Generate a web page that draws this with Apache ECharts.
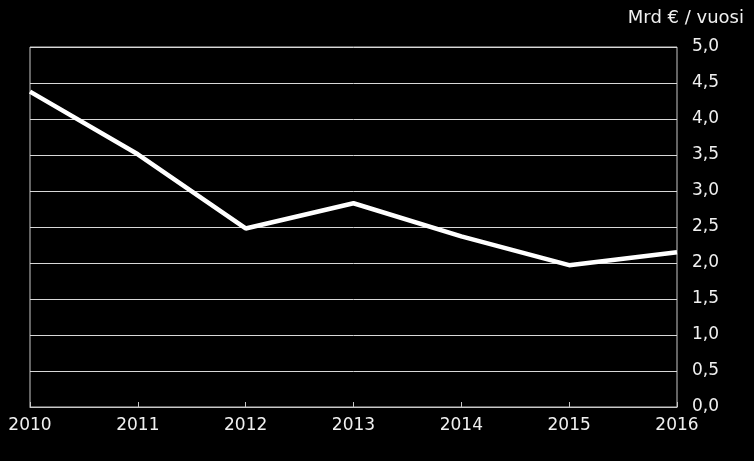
<!DOCTYPE html>
<html>
<head>
<meta charset="utf-8">
<script src="https://cdn.jsdelivr.net/npm/echarts@6/dist/echarts.min.js"></script>
<style>
html,body{margin:0;padding:0;background:#000;}
#c{width:754px;height:461px;}
</style>
</head>
<body>
<div id="c"></div>
<script>
const years = ['2010','2011','2012','2013','2014','2015','2016'];
const values = [4.38, 3.51, 2.48, 2.83, 2.37, 1.97, 2.15];
const unitLabel = 'Mrd € / vuosi';

const chart = echarts.init(document.getElementById('c'));
const font = '"DejaVu Sans", sans-serif';
chart.setOption({
  backgroundColor: '#000',
  animation: false,
  title: {
    text: unitLabel,
    right: 5,
    top: 4,
    textStyle: {color: '#f0f0f0', fontSize: 18, fontWeight: 'normal', fontFamily: font}
  },
  grid: {
    left: 30, right: 77, top: 47, bottom: 54,
    show: true, borderColor: '#c8c8c8', borderWidth: 1, backgroundColor: 'transparent'
  },
  xAxis: {
    type: 'category',
    data: years,
    boundaryGap: false,
    axisLine: {show: true, lineStyle: {color: '#c8c8c8', width: 1}},
    axisTick: {show: true, inside: true, length: 5, lineStyle: {color: '#c8c8c8'}},
    axisLabel: {color: '#f0f0f0', fontSize: 17, fontFamily: font, margin: 10},
    splitLine: {show: false}
  },
  yAxis: {
    type: 'value',
    position: 'right',
    min: 0, max: 5, interval: 0.5,
    axisLine: {show: false},
    axisTick: {show: false},
    axisLabel: {
      color: '#f0f0f0', fontSize: 17, fontFamily: font, margin: 15,
      formatter: v => v.toFixed(1).replace('.', ',')
    },
    splitLine: {show: true, lineStyle: {color: '#d8d8d8', width: 1}}
  },
  series: [{
    type: 'line',
    data: values,
    showSymbol: false,
    symbol: 'none',
    lineStyle: {color: '#ffffff', width: 4.5},
    z: 5
  }]
});
</script>
</body>
</html>
